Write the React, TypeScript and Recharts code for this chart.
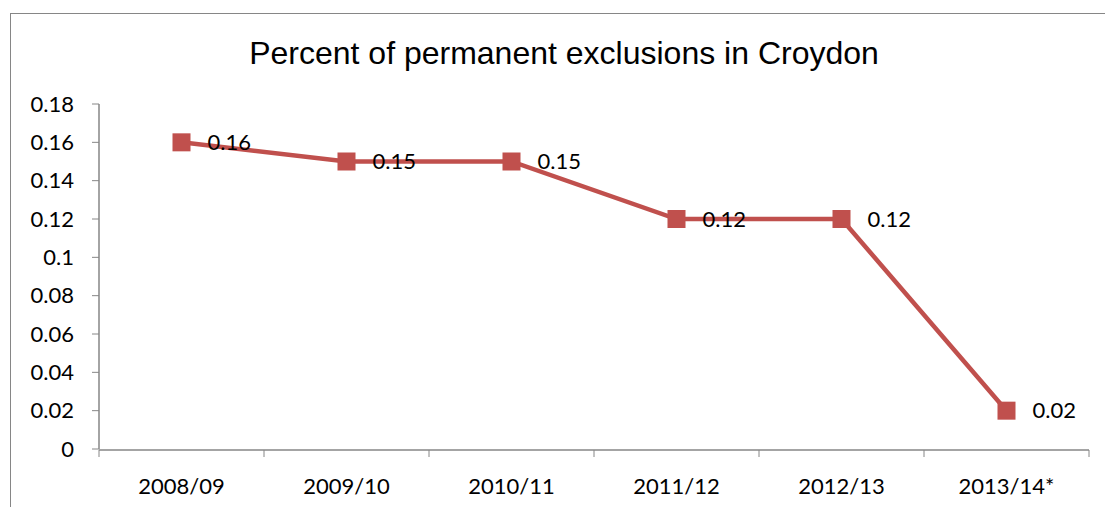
import { LineChart, Line, XAxis, YAxis, LabelList } from "recharts";

const years = ["2008/09", "2009/10", "2010/11", "2011/12", "2012/13", "2013/14*"];
const percents = [0.16, 0.15, 0.15, 0.12, 0.12, 0.02];
const yTicks = [0, 0.02, 0.04, 0.06, 0.08, 0.1, 0.12, 0.14, 0.16, 0.18];
const boundaries = [0, 1, 2, 3, 4, 5, 6];

const rows = years.map((year, i) => ({ year, value: percents[i] }));

const RED = "#C0504D";
const AXIS = "#868686";
const FONT = "Lato, 'Open Sans', sans-serif";

// square marker like the original Excel chart
const SquareDot = (props: any) => {
  const { cx, cy } = props;
  if (cx == null || cy == null) return null;
  return <rect x={cx - 9} y={cy - 9} width={18} height={18} fill={RED} />;
};

export default function App() {
  return (
    <div
      style={{
        position: "absolute",
        left: 0,
        top: 0,
        width: 1105,
        height: 507,
        overflow: "hidden",
        background: "#fff",
      }}
    >
      {/* chart frame, runs off the right and bottom edge */}
      <div
        style={{
          position: "absolute",
          left: 10,
          top: 13,
          width: 1200,
          height: 600,
          border: `1.5px solid ${AXIS}`,
        }}
      />
      <div
        style={{
          position: "absolute",
          left: 0,
          top: 35,
          width: 1128,
          textAlign: "center",
          fontFamily: "'Liberation Sans', Arial, sans-serif",
          fontSize: 32,
          lineHeight: "37px",
          color: "#000",
        }}
      >
        Percent of permanent exclusions in Croydon
      </div>
      <LineChart
        width={1105}
        height={507}
        data={rows}
        margin={{ top: 104, right: 16, bottom: 0, left: 39 }}
        style={{ position: "absolute", left: 0, top: 0 }}
      >
        {/* category labels; this axis sits innermost, so keep it 1px tall */}
        <XAxis
          dataKey="year"
          height={1}
          padding={{ left: 82.5, right: 82.5 }}
          tickLine={false}
          axisLine={false}
          tickSize={7}
          tickMargin={22}
          interval={0}
          tick={{ fill: "#000", fontSize: 22, fontFamily: FONT }}
        />
        {/* tick marks between the categories, Excel style */}
        <XAxis
          xAxisId="grid"
          type="number"
          scale="linear"
          dataKey={(d: any) => years.indexOf(d.year) + 0.5}
          domain={[0, 6]}
          allowDataOverflow
          ticks={boundaries}
          interval={0}
          height={57}
          tickFormatter={() => ""}
          tickLine={{ stroke: AXIS }}
          axisLine={{ stroke: AXIS, strokeWidth: 1.5 }}
          tickSize={7}
        />
        <YAxis
          width={60}
          domain={[0, 0.18]}
          ticks={yTicks}
          interval={0}
          tickLine={{ stroke: AXIS }}
          axisLine={{ stroke: AXIS, strokeWidth: 1.5 }}
          tickSize={7}
          tickMargin={18}
          tick={{ fill: "#000", fontSize: 22, fontFamily: FONT }}
        />
        <Line
          dataKey="value"
          stroke={RED}
          strokeWidth={4.5}
          dot={<SquareDot />}
          activeDot={false}
          isAnimationActive={false}
        >
          <LabelList
            dataKey="value"
            position="right"
            offset={26}
            fill="#000"
            fontSize={22}
            fontFamily={FONT}
          />
        </Line>
      </LineChart>
    </div>
  );
}
